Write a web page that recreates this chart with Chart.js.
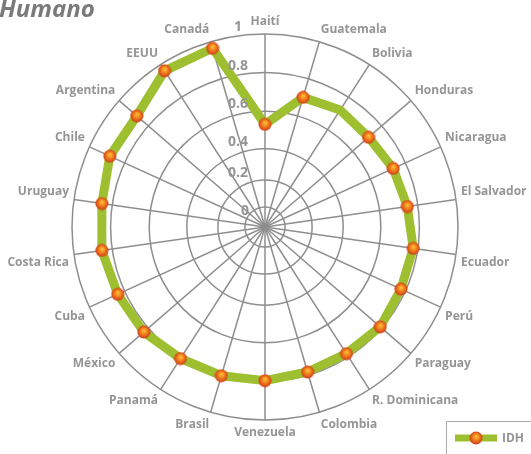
<!DOCTYPE html>
<html>
<head>
<meta charset="utf-8">
<script src="https://cdn.jsdelivr.net/npm/chart.js@4.4.1/dist/chart.umd.min.js"></script>
<style>
  html, body { margin: 0; padding: 0; background: #fff; }
  #wrap { position: relative; width: 531px; height: 454px; }
</style>
</head>
<body>
<div id="wrap"><canvas id="idhChart"></canvas></div>
<script>
// data
const COUNTRIES = ['Haití', 'Guatemala', 'Bolivia', 'Honduras', 'Nicaragua', 'El Salvador', 'Ecuador',
  'Perú', 'Paraguay', 'R. Dominicana', 'Colombia', 'Venezuela', 'Brasil', 'Panamá', 'México', 'Cuba',
  'Costa Rica', 'Uruguay', 'Chile', 'Argentina', 'EEUU', 'Canadá'];
const IDH = [0.53, 0.70, 0.72, 0.71, 0.73, 0.745, 0.776, 0.774, 0.79, 0.78, 0.783, 0.796, 0.803,
  0.81, 0.831, 0.839, 0.854, 0.854, 0.884, 0.879, 0.962, 0.965];
const TICK_VALUES = [0, 0.2, 0.4, 0.6, 0.8, 1];
const NO_MARKER = ['Bolivia']; // the original has no ball on this spoke
const TITLE = 'Humano';
const SERIES_NAME = 'IDH';

// layout
const CX = 265, CY = 227, RADIUS = 193;
const SCALE_MIN = -0.15;
// where each ring sits as a share of the radius (inner rings are pushed outward in the original)
const RING_SHARE = [0.104, 0.244, 0.405, 0.6, 0.8, 1];

const GREEN = '#9ebf30';
const GRAY = '#959595';
const GRID = '#8e8e8e';
const FONT = '"Open Sans", "DejaVu Sans", sans-serif';

function warp(v) {
  const xs = [SCALE_MIN, ...TICK_VALUES];
  const ys = [0, ...RING_SHARE];
  if (v <= xs[0]) return 0;
  for (let i = 1; i < xs.length; i++) {
    if (v <= xs[i]) {
      const t = (v - xs[i - 1]) / (xs[i] - xs[i - 1]);
      return ys[i - 1] + t * (ys[i] - ys[i - 1]);
    }
  }
  return 1;
}

class WarpedRadialScale extends Chart.RadialLinearScale {
  static id = 'warpedRadial';

  setCenterPoint() {
    this.xCenter = CX;
    this.yCenter = CY;
    this.drawingArea = RADIUS;
  }

  getDistanceFromCenterForValue(value) {
    if (value === null || isNaN(value)) return NaN;
    return this.drawingArea * warp(value);
  }

  // tick numbers sit a little left of the top spoke, just above each ring
  drawLabels() {
    const ctx = this.ctx;
    ctx.save();
    ctx.font = 'bold 14px ' + FONT;
    ctx.fillStyle = GRAY;
    ctx.textAlign = 'center';
    ctx.textBaseline = 'middle';
    this.ticks.forEach((tick) => {
      const r = this.getDistanceFromCenterForValue(tick.value);
      const up = tick.value === 0 ? -4 : 7;
      ctx.fillText(tick.label, this.xCenter - (tick.value === 0 ? 20 : 27), this.yCenter - r - up);
    });
    ctx.restore();
  }
}
Chart.register(WarpedRadialScale);

function makeBall(d) {
  const c = document.createElement('canvas');
  c.width = c.height = d;
  const g = c.getContext('2d');
  const r = d / 2;
  const grad = g.createRadialGradient(r * 1.05, r * 0.75, 0, r, r, r);
  grad.addColorStop(0, '#ffc83c');
  grad.addColorStop(0.5, '#f07c1c');
  grad.addColorStop(1, '#c93418');
  g.fillStyle = grad;
  g.beginPath();
  g.arc(r, r, r - 0.5, 0, Math.PI * 2);
  g.fill();
  return c;
}
const ball = makeBall(14);

// title top-left and the small legend box in the bottom-right corner
const decorations = {
  id: 'decorations',
  afterDraw(chart) {
    const ctx = chart.ctx;
    ctx.save();
    ctx.font = 'italic bold 24px ' + FONT;
    ctx.fillStyle = '#7a7a7a';
    ctx.textBaseline = 'alphabetic';
    ctx.fillText(TITLE, -1, 17);

    ctx.strokeStyle = '#aaaaaa';
    ctx.lineWidth = 1;
    ctx.beginPath();
    ctx.moveTo(446.5, 454);
    ctx.lineTo(446.5, 421.5);
    ctx.lineTo(531, 421.5);
    ctx.stroke();

    ctx.strokeStyle = GREEN;
    ctx.lineWidth = 7;
    ctx.beginPath();
    ctx.moveTo(455, 438);
    ctx.lineTo(497, 438);
    ctx.stroke();
    ctx.drawImage(ball, 476 - ball.width / 2, 438 - ball.height / 2);

    ctx.font = 'bold 12px ' + FONT;
    ctx.fillStyle = GRAY;
    ctx.textBaseline = 'middle';
    ctx.fillText(chart.data.datasets[0].label, 502, 439);
    ctx.restore();
  }
};

new Chart(document.getElementById('idhChart'), {
  type: 'radar',
  data: {
    labels: COUNTRIES,
    datasets: [{
      label: SERIES_NAME,
      data: IDH,
      fill: false,
      borderColor: GREEN,
      borderWidth: 9,
      borderJoinStyle: 'round',
      tension: 0,
      pointStyle: ball,
      pointRadius: (c) => NO_MARKER.includes(COUNTRIES[c.dataIndex]) ? 0 : 7,
      pointHoverRadius: 7
    }]
  },
  options: {
    responsive: true,
    maintainAspectRatio: false,
    animation: false,
    layout: { padding: 0 },
    plugins: {
      legend: { display: false },
      title: { display: false },
      tooltip: { enabled: false }
    },
    scales: {
      r: {
        type: 'warpedRadial',
        min: SCALE_MIN,
        max: 1,
        afterBuildTicks: (scale) => {
          scale.ticks = TICK_VALUES.map((v) => ({ value: v }));
        },
        grid: { circular: true, color: GRID, lineWidth: 1.5 },
        angleLines: { color: GRID, lineWidth: 1.5 },
        // labels are drawn by the scale's own drawLabels above; display off keeps the
        // point labels from being pushed out by the tick backdrop height.
        // z: 1 puts the tick numbers above the green line
        ticks: { display: false, z: 1, callback: (v) => String(Math.round(v * 10) / 10) },
        pointLabels: {
          color: GRAY,
          padding: 5,
          font: { family: FONT, size: 12, weight: 'bold' }
        }
      }
    }
  },
  plugins: [decorations]
});
</script>
</body>
</html>
